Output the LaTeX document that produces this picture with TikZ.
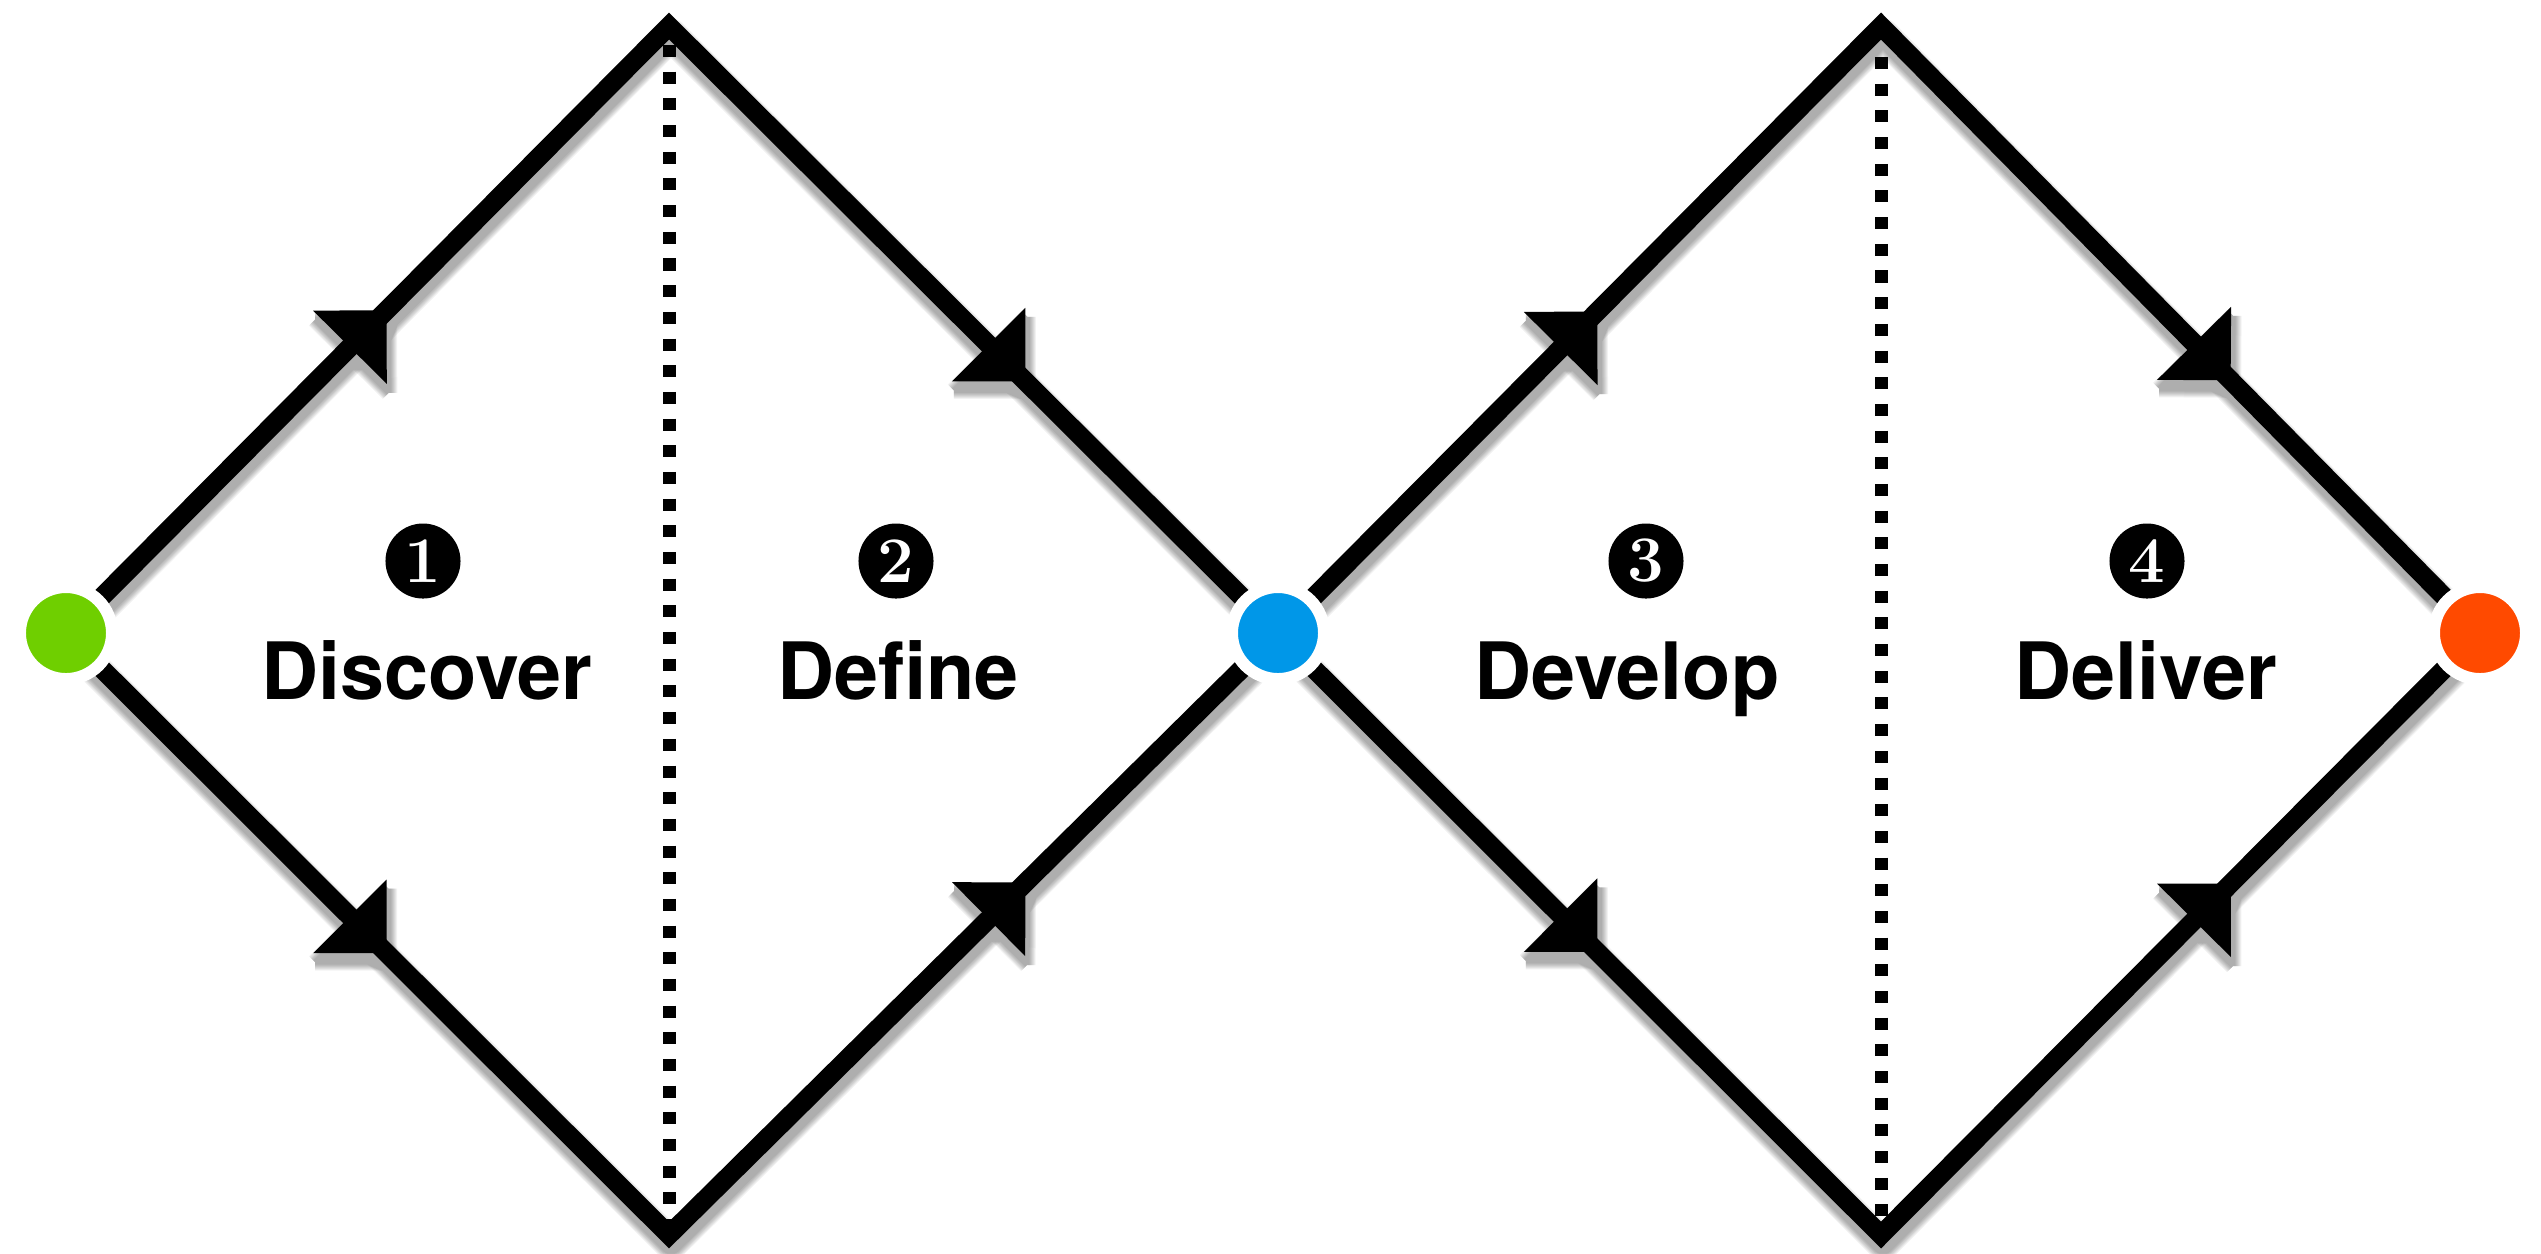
\documentclass[tikz,border=0pt]{standalone}
\usepackage{fontspec}
\setsansfont{TeX Gyre Heros}
\usetikzlibrary{decorations.markings}

\definecolor{startgreen}{RGB}{111,207,0}
\definecolor{midblue}{RGB}{0,151,232}
\definecolor{endorange}{RGB}{255,74,0}

% arrowhead shape: right-angled tip pointing along the path
\newcommand\headshape{(26,0) -- (-26,52) -- (-26,-52) -- cycle}

\tikzset{
  flow/.style={line width=0.19cm, line join=miter, line cap=butt,
    postaction={decorate},
    decoration={markings,
      mark=at position 0.25 with {\fill \headshape;},
      mark=at position 0.777 with {\fill \headshape;}}},
  flowshadow/.style={line join=round, line cap=butt,
    postaction={decorate},
    decoration={markings,
      mark=at position 0.25 with
        {\filldraw[line join=round, line width=\pgflinewidth-0.19cm] \headshape;},
      mark=at position 0.777 with
        {\filldraw[line join=round, line width=\pgflinewidth-0.19cm] \headshape;}}},
  divider/.style={line width=0.13cm, line cap=butt,
    dash pattern=on 0.12cm off 0.1467cm},
  endpoint/.style={circle, minimum size=0.92cm, inner sep=0pt, outer sep=0pt,
    draw=white, line width=0.12cm},
  numdot/.style={circle, fill=black, text=white, minimum size=0.75cm,
    inner sep=0pt, font=\rmfamily\bfseries\fontsize{18.5}{18.5}\selectfont},
  phase/.style={anchor=base, font=\sffamily\bfseries\fontsize{22.5}{27}\selectfont}
}

\begin{document}
\begin{tikzpicture}[x=0.01cm, y=-0.01cm]
  \fill[white] (0,0) rectangle (2541,1253);
  \useasboundingbox (0,0) rectangle (2541,1253);

  % vertices of the two diamonds
  \coordinate (L)  at (66,633);
  \coordinate (T1) at (669,26);
  \coordinate (B1) at (669,1235);
  \coordinate (M)  at (1278,633);
  \coordinate (T2) at (1881,26);
  \coordinate (B2) at (1881,1235);
  \coordinate (R)  at (2480,633);

  % soft drop shadow under the outlines
  \foreach \k in {1,...,7} {
    \begin{scope}[transform canvas={xshift=0.02cm, yshift=-0.09cm},
                  transparency group, opacity=0.05]
      \draw[flowshadow, line width=0.19cm+\k*0.02cm] (L) -- (T1) -- (M);
      \draw[flowshadow, line width=0.19cm+\k*0.02cm] (L) -- (B1) -- (M);
      \draw[flowshadow, line width=0.19cm+\k*0.02cm] (M) -- (T2) -- (R);
      \draw[flowshadow, line width=0.19cm+\k*0.02cm] (M) -- (B2) -- (R);
    \end{scope}
  }

  % dotted dividers between the halves of each diamond
  \coordinate (d1top) at (669,45);
  \coordinate (d1bot) at (669,1222);
  \coordinate (d2top) at (1881,57);
  \coordinate (d2bot) at (1881,1222);
  \draw[divider] (d1top) -- (d1bot);
  \draw[divider] (d2top) -- (d2bot);

  % diamond outlines with direction arrows
  \draw[flow] (L) -- (T1) -- (M);
  \draw[flow] (L) -- (B1) -- (M);
  \draw[flow] (M) -- (T2) -- (R);
  \draw[flow] (M) -- (B2) -- (R);

  % start, hand-over and end points
  \node[endpoint, fill=startgreen] (start) at (L) {};
  \node[endpoint, fill=midblue]    (hand)  at (M) {};
  \node[endpoint, fill=endorange]  (finish) at (R) {};

  % numbered phases
  \node[numdot] (n1) at (423,561) {1};
  \node[numdot] (n2) at (896,561) {2};
  \node[numdot] (n3) at (1646,561) {3};
  \node[numdot] (n4) at (2147,561) {4};

  \node[phase] (p1) at (427,699) {Discover};
  \node[phase] (p2) at (898,699) {Define};
  \node[phase] (p3) at (1627,699) {Develop};
  \node[phase] (p4) at (2146,699) {Deliver};
\end{tikzpicture}
\end{document}
